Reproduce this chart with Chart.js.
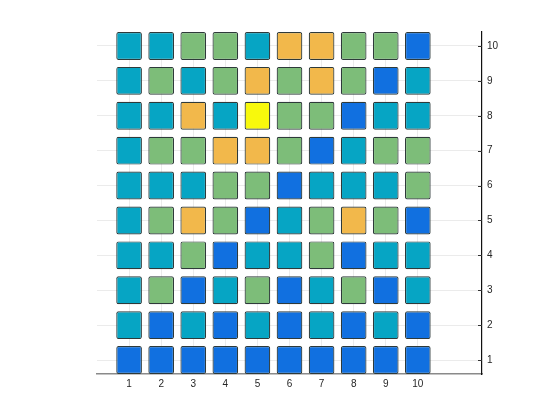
<!DOCTYPE html>
<html>
<head>
<meta charset="utf-8">
<script src="https://cdn.jsdelivr.net/npm/chart.js@4/dist/chart.umd.min.js"></script>
<style>
  html, body { margin: 0; padding: 0; background: #fff; }
  #wrap { width: 560px; height: 420px; }
</style>
</head>
<body>
<div id="wrap"><canvas id="grid" width="560" height="420"></canvas></div>
<script>
// grid of levels, one array per row (row 1 = bottom)
const colNumbers = [1, 2, 3, 4, 5, 6, 7, 8, 9, 10];
const rowNumbers = [1, 2, 3, 4, 5, 6, 7, 8, 9, 10];
const xTickValues = [1, 2, 3, 4, 5, 6, 7, 8, 9, 10];
const yTickValues = [1, 2, 3, 4, 5, 6, 7, 8, 9, 10];

// 1 = blue, 2 = teal, 3 = green, 4 = orange, 5 = yellow
const row1  = [1, 1, 1, 1, 1, 1, 1, 1, 1, 1];
const row2  = [2, 1, 2, 1, 2, 1, 2, 1, 2, 1];
const row3  = [2, 3, 1, 2, 3, 1, 2, 3, 1, 2];
const row4  = [2, 2, 3, 1, 2, 2, 3, 1, 2, 2];
const row5  = [2, 3, 4, 3, 1, 2, 3, 4, 3, 1];
const row6  = [2, 2, 2, 3, 3, 1, 2, 2, 2, 3];
const row7  = [2, 3, 3, 4, 4, 3, 1, 2, 3, 3];
const row8  = [2, 2, 4, 2, 5, 3, 3, 1, 2, 2];
const row9  = [2, 3, 2, 3, 4, 3, 4, 3, 1, 2];
const row10 = [2, 2, 3, 3, 2, 4, 4, 3, 3, 1];
const rows = [row1, row2, row3, row4, row5, row6, row7, row8, row9, row10];

const levelColors = { 1: '#1170e0', 2: '#06a5c4', 3: '#7dbd79', 4: '#f2b84b', 5: '#f8f90c' };
const cellHalf = 0.4;

Chart.defaults.font.family = '"Liberation Sans", Arial, sans-serif';
Chart.defaults.font.size = 10;
Chart.defaults.color = '#262626';

const datasets = rows.map((row, r) => ({
  label: 'row ' + rowNumbers[r],
  data: colNumbers.map(c => ({ x: c, y: [rowNumbers[r] - cellHalf, rowNumbers[r] + cellHalf] })),
  backgroundColor: row.map(v => levelColors[v]),
  borderColor: '#2e3a3a',
  borderWidth: 1.2,
  borderSkipped: false,
  borderRadius: 2,
  grouped: false,
  categoryPercentage: 1,
  barPercentage: 0.8
}));

// short inward tick marks on the right axis
const innerTicks = {
  id: 'innerTicks',
  afterDraw(chart) {
    const ys = chart.scales.y;
    const ctx = chart.ctx;
    const right = chart.chartArea.right;
    ctx.save();
    ctx.strokeStyle = '#333';
    ctx.lineWidth = 1;
    ys.ticks.forEach(t => {
      const py = Math.round(ys.getPixelForValue(t.value)) + 0.5;
      ctx.beginPath();
      ctx.moveTo(right - 4, py);
      ctx.lineTo(right, py);
      ctx.stroke();
    });
    ctx.restore();
  }
};

new Chart(document.getElementById('grid'), {
  type: 'bar',
  data: { datasets },
  options: {
    responsive: false,
    animation: false,
    layout: { padding: { left: 97, right: 48, top: 32, bottom: 26 } },
    plugins: { legend: { display: false }, tooltip: { enabled: false } },
    scales: {
      x: {
        type: 'linear',
        min: 0,
        max: 12,
        offset: false,
        afterBuildTicks: s => { s.ticks = xTickValues.map(v => ({ value: v })); },
        afterFit: s => { s.height = 20; },
        grid: { color: '#ebebeb', drawTicks: false, offset: false },
        border: { color: '#8a8a8a', width: 1.5 },
        ticks: { padding: 4, maxRotation: 0 }
      },
      y: {
        type: 'linear',
        position: 'right',
        min: 0.6,
        max: 10.4,
        afterBuildTicks: s => { s.ticks = yTickValues.map(v => ({ value: v })); },
        afterFit: s => { s.width = 30; },
        grid: { color: '#ebebeb', drawTicks: false },
        border: { color: '#111', width: 1.2 },
        ticks: { padding: 5 }
      }
    }
  },
  plugins: [innerTicks]
});
</script>
</body>
</html>
